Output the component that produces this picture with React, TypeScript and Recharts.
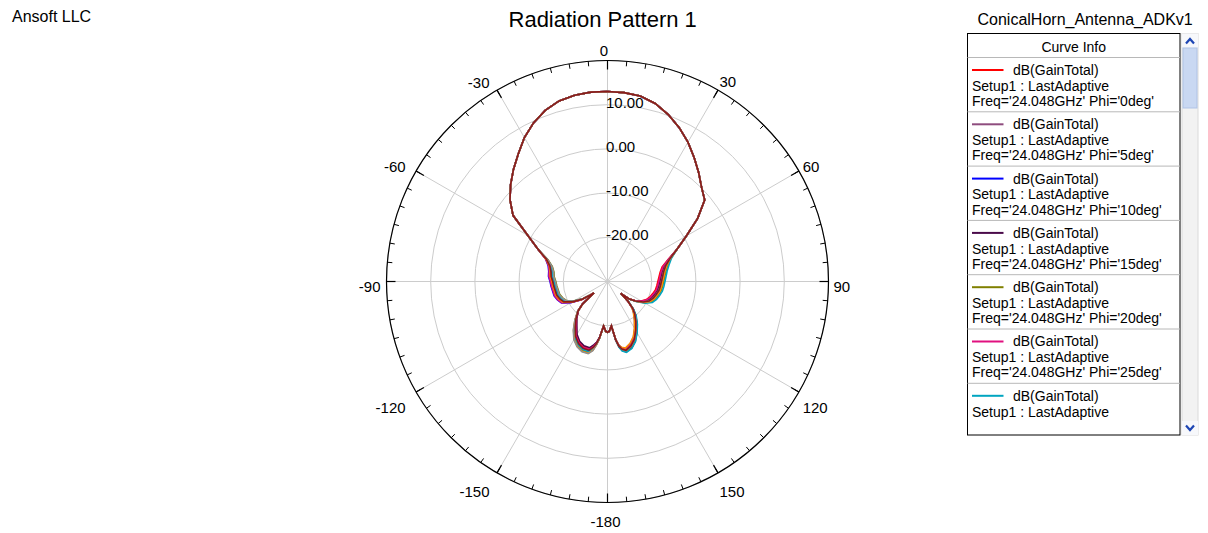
import React from 'react';
import { RadarChart, Radar, PolarGrid, PolarAngleAxis, PolarRadiusAxis } from 'recharts';

const FONT = '"Liberation Sans", Arial, Helvetica, sans-serif';

// ---- angles (deg) ----
const LEFT_BACK_ANGLES = [-178, -175, -172, -170, -168, -165, -160, -155, -150, -145, -140, -135, -132, -130, -128, -125, -120, -115, -110, -105, -100, -95, -90, -85, -80, -75, -70];
const MAIN_ANGLES = [-65, -60, -55, -50, -45, -40, -35, -30, -25, -20, -15, -10, -5, 0, 5, 10, 15, 20, 25, 30, 35, 40, 45, 50, 55, 60, 65];
const RIGHT_BACK_ANGLES = [70, 75, 80, 85, 90, 95, 100, 105, 110, 115, 120, 125, 129, 132, 134, 137, 140, 145, 150, 155, 160, 165, 168, 170, 172, 175, 178, 180];

// ---- main lobe, common to every Phi cut (dB) ----
const MAIN_LOBE_DB = [-12.6, -9.2, -3.9, -1.2, 1.0, 3.1, 5.2, 7.6, 9.6, 11.2, 12.3, 12.8, 13.0, 13.0, 12.9, 12.6, 11.7, 10.2, 8.4, 6.4, 4.2, 2.1, 0.1, -1.3, -5.1, -9.4, -12.6];

// ---- side / back region per Phi cut (dB) ----
const PHI0_LEFT = [-18.8, -19.9, -17.3, -16.0, -15.2, -14.3, -14.3, -14.9, -16.0, -17.7, -19.1, -20.7, -22.4, -26.0, -25.0, -22.9, -20.6, -18.8, -18.2, -17.8, -17.7, -17.5, -17.3, -16.9, -16.7, -16.3, -15.2];
const PHI0_RIGHT = [-15.4, -17.2, -17.9, -18.3, -18.6, -18.8, -19.0, -19.4, -19.8, -20.3, -21.2, -22.5, -23.8, -26.0, -23.4, -21.5, -20.2, -18.5, -16.9, -15.3, -14.2, -13.6, -14.1, -15.0, -16.6, -19.9, -18.7, -18.5];
const PHI5_LEFT = [-18.6, -19.9, -17.1, -15.6, -14.4, -13.5, -13.5, -14.1, -15.2, -16.9, -18.7, -20.5, -22.4, -26.0, -25.1, -23.2, -21.1, -19.6, -19.0, -18.6, -18.5, -18.3, -18.1, -17.7, -17.5, -17.0, -15.6];
const PHI5_RIGHT = [-15.1, -16.6, -17.3, -17.7, -18.0, -18.2, -18.4, -18.8, -19.2, -19.8, -20.8, -22.4, -23.8, -26.0, -23.6, -21.8, -20.6, -19.1, -17.5, -15.9, -14.8, -14.2, -14.6, -15.3, -16.8, -19.9, -18.7, -18.5];
const PHI10_LEFT = [-18.7, -19.8, -17.1, -15.7, -14.6, -13.7, -13.7, -14.3, -15.4, -17.1, -18.8, -20.5, -22.3, -26.0, -24.9, -22.8, -20.4, -18.5, -17.9, -17.5, -17.4, -17.2, -17.0, -16.6, -16.5, -16.1, -15.1];
const PHI10_RIGHT = [-14.9, -16.2, -16.9, -17.3, -17.6, -17.8, -18.0, -18.4, -18.8, -19.4, -20.6, -22.2, -23.7, -26.0, -23.6, -21.8, -20.8, -19.3, -17.7, -16.1, -15.0, -14.3, -14.7, -15.4, -16.8, -19.9, -18.7, -18.5];
const PHI15_LEFT = [-18.8, -19.9, -17.3, -16.1, -15.4, -14.5, -14.5, -15.1, -16.2, -17.9, -19.2, -20.7, -22.5, -26.0, -25.0, -23.1, -20.9, -19.3, -18.7, -18.3, -18.2, -18.0, -17.8, -17.4, -17.2, -16.7, -15.4];
const PHI15_RIGHT = [-15.2, -16.8, -17.5, -17.9, -18.2, -18.4, -18.6, -19.0, -19.4, -20.0, -21.0, -22.4, -23.8, -26.0, -23.4, -21.4, -20.1, -18.3, -16.7, -15.1, -14.0, -13.5, -14.0, -15.0, -16.6, -19.9, -18.7, -18.5];
const PHI20_LEFT = [-18.6, -19.9, -17.0, -15.5, -14.2, -13.3, -13.3, -13.9, -15.0, -16.7, -18.6, -20.5, -22.4, -26.0, -25.1, -23.3, -21.3, -19.8, -19.2, -18.8, -18.7, -18.5, -18.3, -17.9, -17.7, -17.1, -15.7];
const PHI20_RIGHT = [-14.8, -15.9, -16.6, -17.0, -17.3, -17.5, -17.7, -18.1, -18.5, -19.1, -20.4, -22.2, -23.8, -26.0, -23.4, -21.5, -20.3, -18.6, -17.0, -15.4, -14.3, -13.7, -14.2, -15.1, -16.7, -19.9, -18.7, -18.5];
const PHI25_LEFT = [-18.7, -19.9, -17.2, -15.9, -15.0, -14.1, -14.1, -14.7, -15.8, -17.5, -19.0, -20.6, -22.3, -26.0, -24.9, -22.8, -20.5, -18.6, -18.0, -17.6, -17.5, -17.3, -17.1, -16.7, -16.6, -16.2, -15.1];
const PHI25_RIGHT = [-15.3, -17.0, -17.7, -18.1, -18.4, -18.6, -18.8, -19.2, -19.6, -20.2, -21.1, -22.5, -23.8, -26.0, -23.5, -21.7, -20.5, -19.0, -17.4, -15.8, -14.7, -14.1, -14.5, -15.3, -16.7, -19.9, -18.7, -18.5];
const PHI30_LEFT = [-18.6, -19.9, -17.1, -15.6, -14.5, -13.6, -13.6, -14.2, -15.3, -17.0, -18.7, -20.5, -22.4, -26.0, -25.0, -23.1, -21.0, -19.4, -18.8, -18.4, -18.3, -18.1, -17.9, -17.5, -17.3, -16.8, -15.4];
const PHI30_RIGHT = [-14.6, -15.6, -16.3, -16.7, -17.0, -17.2, -17.4, -17.8, -18.2, -18.8, -20.2, -22.1, -23.7, -26.0, -23.3, -21.3, -19.9, -18.2, -16.6, -15.0, -13.9, -13.4, -13.9, -14.9, -16.6, -19.9, -18.7, -18.5];
const PHI35_LEFT = [-18.6, -19.9, -17.0, -15.4, -14.1, -13.2, -13.2, -13.8, -14.9, -16.6, -18.5, -20.5, -22.4, -26.0, -25.0, -22.9, -20.7, -18.9, -18.3, -17.9, -17.8, -17.6, -17.4, -17.0, -16.8, -16.4, -15.2];
const PHI35_RIGHT = [-14.9, -16.1, -16.8, -17.2, -17.5, -17.7, -17.9, -18.3, -18.7, -19.3, -20.5, -22.2, -23.8, -26.0, -23.6, -21.9, -20.9, -19.4, -17.8, -16.2, -15.1, -14.4, -14.8, -15.4, -16.8, -19.9, -18.7, -18.5];
const PHI40_LEFT = [-18.6, -19.9, -17.0, -15.4, -14.0, -13.1, -13.1, -13.7, -14.8, -16.5, -18.5, -20.5, -22.4, -26.0, -25.1, -23.3, -21.2, -19.7, -19.1, -18.7, -18.6, -18.4, -18.2, -17.8, -17.6, -17.0, -15.6];
const PHI40_RIGHT = [-15.0, -16.4, -17.1, -17.5, -17.8, -18.0, -18.2, -18.6, -19.0, -19.6, -20.7, -22.3, -23.8, -26.0, -23.5, -21.6, -20.3, -18.7, -17.1, -15.5, -14.4, -13.8, -14.3, -15.2, -16.7, -19.9, -18.7, -18.5];
const PHI45_LEFT = [-18.7, -19.9, -17.2, -15.8, -14.8, -13.9, -13.9, -14.5, -15.6, -17.3, -18.9, -20.6, -22.4, -26.0, -25.0, -23.0, -20.8, -19.1, -18.5, -18.1, -18.0, -17.8, -17.6, -17.2, -17.0, -16.5, -15.3];
const PHI45_RIGHT = [-15.0, -16.4, -17.1, -17.5, -17.8, -18.0, -18.2, -18.6, -19.0, -19.6, -20.7, -22.3, -23.8, -26.0, -23.5, -21.6, -20.4, -18.8, -17.2, -15.6, -14.5, -13.9, -14.4, -15.2, -16.7, -19.9, -18.7, -18.5];

const SERIES = [
  { key: 'phi0', phi: '0', color: '#FF0000', left: PHI0_LEFT, right: PHI0_RIGHT },
  { key: 'phi5', phi: '5', color: '#8E4C7E', left: PHI5_LEFT, right: PHI5_RIGHT },
  { key: 'phi10', phi: '10', color: '#0000FF', left: PHI10_LEFT, right: PHI10_RIGHT },
  { key: 'phi15', phi: '15', color: '#4A0A4A', left: PHI15_LEFT, right: PHI15_RIGHT },
  { key: 'phi20', phi: '20', color: '#808000', left: PHI20_LEFT, right: PHI20_RIGHT },
  { key: 'phi25', phi: '25', color: '#E0107F', left: PHI25_LEFT, right: PHI25_RIGHT },
  { key: 'phi30', phi: '30', color: '#00A5C0', left: PHI30_LEFT, right: PHI30_RIGHT },
  { key: 'phi35', phi: '35', color: '#FF8C00', left: PHI35_LEFT, right: PHI35_RIGHT },
  { key: 'phi40', phi: '40', color: '#909090', left: PHI40_LEFT, right: PHI40_RIGHT },
  { key: 'phi45', phi: '45', color: '#8B1A1A', left: PHI45_LEFT, right: PHI45_RIGHT },
];

const LEGEND_EXPR = 'dB(GainTotal)';
const LEGEND_SETUP = 'Setup1 : LastAdaptive';
const LEGEND_FREQ = '24.048GHz';

const ANGLES = [...LEFT_BACK_ANGLES, ...MAIN_ANGLES, ...RIGHT_BACK_ANGLES];
const data = ANGLES.map((angle, i) => {
  const row: Record<string, number> = { angle };
  SERIES.forEach((s) => {
    const vals = [...s.left, ...MAIN_LOBE_DB, ...s.right];
    row[s.key] = vals[i];
  });
  return row;
});

// ---- layout / style ----
const W = 1208;
const H = 533;
const CX = 607.5;
const CY = 281.5;
const R = 221;
const MAJOR_TICK = 9;
const MINOR_TICK = 5;

// label offsets from the outer circle point: [dx, dy(baseline), anchor]
const LABEL_OFFSETS: Record<string, [number, number, 'start' | 'middle' | 'end']> = {
  '0': [-3.5, -4.5, 'middle'],
  '30': [1.5, -3.2, 'start'],
  '60': [3.8, 1.0, 'start'],
  '90': [5.0, 10.5, 'start'],
  '120': [3.8, 20.6, 'start'],
  '150': [1.5, 23.8, 'start'],
  '-180': [-2, 24.5, 'middle'],
  '-150': [-7.5, 23.8, 'end'],
  '-120': [-10.5, 20.6, 'end'],
  '-90': [-6, 10.5, 'end'],
  '-60': [-10.5, 1.0, 'end'],
  '-30': [-7.5, -2.4, 'end'],
};

function AngleTick(props: any) {
  const { x, y, payload } = props;
  const cx = typeof props.cx === 'number' ? props.cx : CX;
  const cy = typeof props.cy === 'number' ? props.cy : CY;
  const v = Math.round(payload.value);
  if (v === 180) return null;
  const off = LABEL_OFFSETS[String(v)];
  if (!off) return null;
  const dx = x - cx;
  const dy = y - cy;
  const d = Math.hypot(dx, dy) || 1;
  const rr = d + MAJOR_TICK;
  const px = cx + (dx / d) * rr;
  const py = cy + (dy / d) * rr;
  return (
    <text x={px + off[0]} y={py + off[1]} textAnchor={off[2]} fontSize={15} fontFamily={FONT} fill="#000">
      {v}
    </text>
  );
}

function RadiusTick(props: any) {
  const { x, y, payload } = props;
  const v = Number(payload.value);
  if (v <= -30 || v >= 20) return null;
  return (
    <text x={x - 1.5} y={y + 3} textAnchor="start" fontSize={15} fontFamily={FONT} fill="#000">
      {v.toFixed(2)}
    </text>
  );
}

const ENTRY_H = 54.3;
const LEG_X = 967.5;
const LEG_Y = 33.5;
const LEG_W = 212.5;
const LEG_H = 401.5;
const LEG_VIEW_BOTTOM = 419;

export default function App() {
  const legendRows = SERIES.map((s, i) => ({ s, top: 57.5 + i * ENTRY_H })).filter(
    (r) => r.top + 17.4 < LEG_VIEW_BOTTOM
  );
  return (
    <div style={{ position: 'absolute', left: 0, top: 0, width: W, height: H, background: '#fff' }}>
      <RadarChart
        width={W}
        height={H}
        data={data}
        cx={CX}
        cy={CY}
        innerRadius={0}
        outerRadius={R}
        startAngle={270}
        endAngle={-90}
        margin={{ top: 0, right: 0, bottom: 0, left: 0 }}
      >
        <PolarGrid gridType="circle" stroke="#CCCCCC" strokeWidth={1} />
        <PolarAngleAxis
          angleAxisId="minor"
          dataKey="angle"
          type="number"
          domain={[-180, 180]}
          allowDataOverflow
          tickCount={73}
          orientation="inner"
          tickSize={MINOR_TICK}
          stroke="#000"
          tickLine={{ stroke: '#000', strokeWidth: 1 }}
          axisLine={false}
          tick={false}
        />
        <PolarAngleAxis
          dataKey="angle"
          type="number"
          domain={[-180, 180]}
          allowDataOverflow
          tickCount={13}
          orientation="inner"
          tickSize={MAJOR_TICK}
          stroke="#000"
          axisLineType="circle"
          axisLine={{ stroke: '#000', strokeWidth: 1.2 }}
          tickLine={{ stroke: '#000', strokeWidth: 1.2 }}
          tick={<AngleTick />}
        />
        <PolarRadiusAxis
          type="number"
          domain={[-30, 20]}
          allowDataOverflow
          tickCount={6}
          angle={90}
          axisLine={false}
          tickLine={false}
          tick={<RadiusTick />}
        />
        {SERIES.map((s) => (
          <Radar
            key={s.key}
            name={`${LEGEND_EXPR} Phi='${s.phi}deg'`}
            dataKey={s.key}
            stroke={s.color}
            strokeWidth={1.6}
            fill="none"
            fillOpacity={0}
            dot={false}
            isAnimationActive={false}
          />
        ))}
      </RadarChart>

      <svg
        width={W}
        height={H}
        style={{ position: 'absolute', left: 0, top: 0, pointerEvents: 'none' }}
        fontFamily={FONT}
      >
        <text x={12} y={21.7} fontSize={16} fill="#000">Ansoft LLC</text>
        <text x={602.7} y={26.7} fontSize={22} textAnchor="middle" fill="#000">Radiation Pattern 1</text>
        <text x={977.5} y={25} fontSize={16} fill="#000">ConicalHorn_Antenna_ADKv1</text>

        {/* legend */}
        <rect x={LEG_X} y={LEG_Y} width={LEG_W} height={LEG_H} fill="#fff" stroke="#000" strokeWidth={1} />
        <text x={LEG_X + LEG_W / 2} y={52} fontSize={14} textAnchor="middle" fill="#000">Curve Info</text>
        <line x1={LEG_X} x2={LEG_X + LEG_W} y1={57.5} y2={57.5} stroke="#B8B8B8" />
        {legendRows.map(({ s, top }) => (
          <g key={s.key}>
            <line x1={972} x2={1003.5} y1={top + 12.5} y2={top + 12.5} stroke={s.color} strokeWidth={2} />
            <text x={1013} y={top + 17.4} fontSize={14} fill="#000">{LEGEND_EXPR}</text>
            {top + 33.2 < LEG_VIEW_BOTTOM && (
              <text x={972} y={top + 33.2} fontSize={14} fill="#000">{LEGEND_SETUP}</text>
            )}
            {top + 48.4 < LEG_VIEW_BOTTOM && (
              <text x={972} y={top + 48.4} fontSize={14} fill="#000">{`Freq='${LEGEND_FREQ}' Phi='${s.phi}deg'`}</text>
            )}
            {top + ENTRY_H < LEG_VIEW_BOTTOM && (
              <line x1={LEG_X} x2={LEG_X + LEG_W} y1={top + ENTRY_H} y2={top + ENTRY_H} stroke="#B8B8B8" />
            )}
          </g>
        ))}

        {/* scrollbar */}
        <rect x={1182} y={LEG_Y} width={16} height={LEG_H} fill="#F2F2F2" stroke="#DADADA" />
        <rect x={1182} y={LEG_Y} width={16} height={14} fill="#F7F8FB" />
        <polyline points="1186,43.5 1190,39 1194,43.5" fill="none" stroke="#1E46B4" strokeWidth={2.2} />
        <rect x={1183} y={48} width={14} height={60} fill="#C9D8F2" stroke="#AFC3E6" />
        <rect x={1182} y={421} width={16} height={14} fill="#F7F8FB" />
        <polyline points="1186,425.5 1190,430 1194,425.5" fill="none" stroke="#1E46B4" strokeWidth={2.2} />
      </svg>
    </div>
  );
}
